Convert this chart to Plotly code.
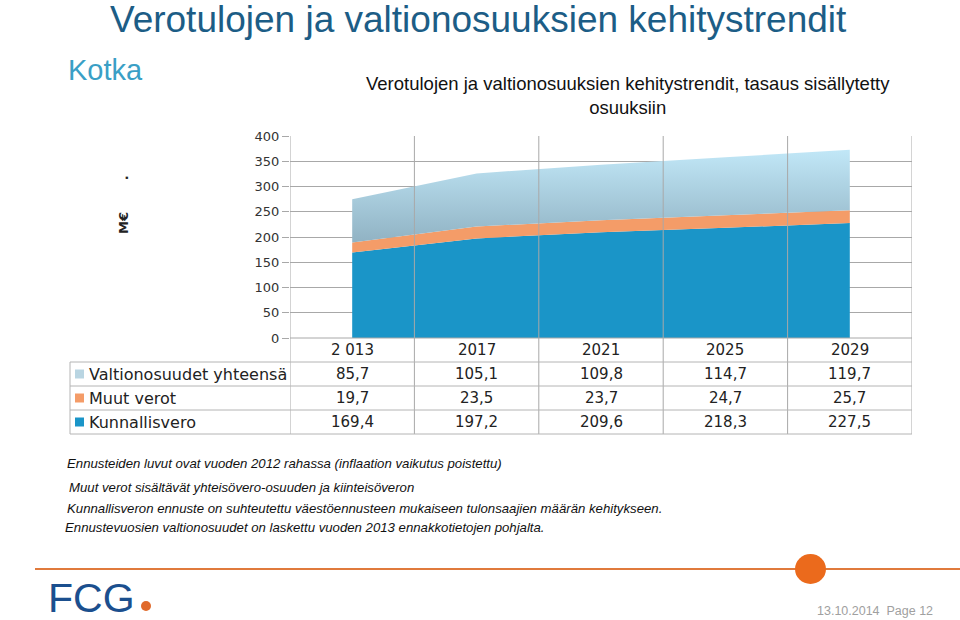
import plotly.graph_objects as go

years = ["2 013", "2017", "2021", "2025", "2029"]
series_names = ["Kunnallisvero", "Muut verot", "Valtionosuudet yhteensä"]
kunnallisvero = [169.4, 197.2, 209.6, 218.3, 227.5]
muut_verot = [19.7, 23.5, 23.7, 24.7, 25.7]
valtionosuudet = [85.7, 105.1, 109.8, 114.7, 119.7]
y_ticks = [0, 50, 100, 150, 200, 250, 300, 350, 400]

W, H = 960, 620
L, R, T, B = 290, 912, 136, 338  # plot area in window pixels


def xp(px):
    return (px - L) / (R - L)


def yp(py):
    return (B - py) / (B - T)


xs = list(range(len(years)))
fig = go.Figure()
fig.add_trace(go.Scatter(x=xs, y=kunnallisvero, stackgroup="a", mode="none",
                         fillcolor="#1a95c8", name=series_names[0]))
fig.add_trace(go.Scatter(x=xs, y=muut_verot, stackgroup="a", mode="none",
                         fillcolor="#f49c68", name=series_names[1]))
fig.add_trace(go.Scatter(x=xs, y=valtionosuudet, stackgroup="a", mode="none",
                         fillcolor="#aacbdb", name=series_names[2],
                         fillgradient=dict(type="vertical", start=185, stop=372,
                                           colorscale=[[0, "#8fb1c2"], [1, "#c1e7f7"]])))

grid = "#a8a8a8"
tbl = "#b4b4b4"
fig.update_layout(
    width=W, height=H,
    margin=dict(l=L, r=W - R, t=T, b=H - B),
    paper_bgcolor="white", plot_bgcolor="white", showlegend=False,
    font=dict(family="DejaVu Sans", size=13, color="#222"),
    xaxis=dict(range=[-0.5, len(years) - 0.5], showgrid=False, showticklabels=False,
               zeroline=False, showline=False, fixedrange=True),
    yaxis=dict(range=[0, 400], tickvals=y_ticks, showgrid=True, gridcolor=grid, gridwidth=1,
               ticks="outside", ticklen=7, tickcolor=grid, zeroline=False,
               showline=False, tickfont=dict(family="DejaVu Sans", size=13, color="#333")),
)

shapes = []
for i in range(len(years) + 1):
    shapes.append(dict(type="line", xref="x", yref="paper", x0=i - 0.5, x1=i - 0.5,
                       y0=1, y1=yp(434), line=dict(color=grid, width=1)))
shapes.append(dict(type="line", xref="paper", yref="paper", x0=0, x1=1, y0=0, y1=0,
                   line=dict(color=grid, width=1)))
for py in [362, 386, 410, 434]:
    shapes.append(dict(type="line", xref="paper", yref="paper", x0=xp(70), x1=1,
                       y0=yp(py), y1=yp(py), line=dict(color=tbl, width=1)))
shapes.append(dict(type="line", xref="paper", yref="paper", x0=xp(70), x1=xp(70),
                   y0=yp(362), y1=yp(434), line=dict(color=tbl, width=1)))

row_labels = [series_names[2], series_names[1], series_names[0]]
row_values = [valtionosuudet, muut_verot, kunnallisvero]
marker_cols = ["#b9d5e2", "#f49c68", "#1a95c8"]
row_centers = [374, 398, 422]

ann = []


def text(x, y, s, size, color="#222", family="DejaVu Sans", xanchor="center",
         xref="paper", **kw):
    ann.append(dict(x=x, y=y, xref=xref, yref="paper", text=s, showarrow=False,
                    xanchor=xanchor, yanchor="middle",
                    font=dict(family=family, size=size, color=color), **kw))


for i, yr in enumerate(years):
    text(i, yp(350), yr, 15, xref="x")
for lbl, vals, col, cy in zip(row_labels, row_values, marker_cols, row_centers):
    shapes.append(dict(type="rect", xref="paper", yref="paper", x0=xp(75), x1=xp(84),
                       y0=yp(cy + 4.5), y1=yp(cy - 4.5), fillcolor=col, line=dict(width=0)))
    text(xp(87), yp(cy), lbl, 16, xanchor="left")
    for i, v in enumerate(vals):
        text(i, yp(cy), f"{v:.1f}".replace(".", ","), 15, xref="x")

text(xp(108), yp(20), "Verotulojen ja valtionosuuksien kehitystrendit", 37,
     color="#1c5d86", family="Liberation Sans", xanchor="left")
text(xp(66), yp(70), "Kotka", 29, color="#3a9fc6", family="Liberation Sans", xanchor="left")
text(xp(628), yp(95),
     "Verotulojen ja valtionosuuksien kehitystrendit, tasaus sisällytetty<br>osuuksiin",
     18.5, color="#111", family="Liberation Sans", align="center")
text(xp(123), yp(205), "<b>M€       .</b>", 13, textangle=-90)

notes = [
    ("Ennusteiden luvut ovat vuoden 2012 rahassa (inflaation vaikutus poistettu)", 65, 463),
    ("Muut verot sisältävät yhteisövero-osuuden ja kiinteisöveron", 67, 487),
    ("Kunnallisveron ennuste on suhteutettu väestöennusteen mukaiseen tulonsaajien määrän kehitykseen.", 65, 508),
    ("Ennustevuosien valtionosuudet on laskettu vuoden 2013 ennakkotietojen pohjalta.", 63, 527),
]
for s, x0, y0 in notes:
    text(xp(x0), yp(y0), f"<i>{s}</i>", 13.2, color="#111", family="Liberation Sans",
         xanchor="left")

# footer
shapes.append(dict(type="line", xref="paper", yref="paper", x0=xp(35), x1=xp(960),
                   y0=yp(569), y1=yp(569), line=dict(color="#e07a3c", width=2)))
shapes.append(dict(type="circle", xref="paper", yref="paper", x0=xp(795), x1=xp(826),
                   y0=yp(584), y1=yp(554), fillcolor="#eb6a1c", line=dict(width=0)))
text(xp(46), yp(598), "FCG", 41, color="#1b4f8e", family="Liberation Sans", xanchor="left")
shapes.append(dict(type="circle", xref="paper", yref="paper", x0=xp(141), x1=xp(151),
                   y0=yp(611), y1=yp(601), fillcolor="#e0692a", line=dict(width=0)))
text(xp(935), yp(611), "13.10.2014  Page 12", 12.5, color="#a0a0a0",
     family="Liberation Sans", xanchor="right")

fig.update_layout(shapes=shapes, annotations=ann)
fig.write_html("out.html", config={"displayModeBar": False},
               post_script="document.body.style.margin='0';")
